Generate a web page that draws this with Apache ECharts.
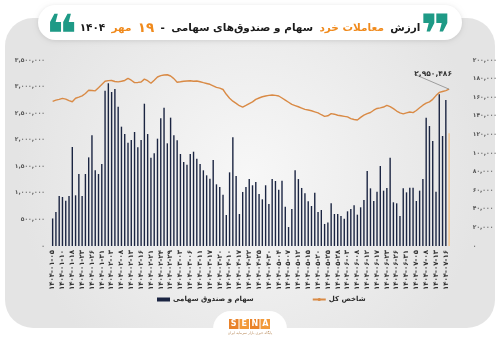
<!DOCTYPE html>
<html>
<head>
<meta charset="utf-8">
<script src="https://cdn.jsdelivr.net/npm/echarts@6/dist/echarts.min.js"></script>
<style>
  html, body { margin: 0; padding: 0; background: #ffffff; }
  #chart { width: 500px; height: 346px; }
</style>
</head>
<body>
<div id="chart"></div>
<script>
// Trading days of 1404 (Solar Hijri), Farvardin to Mehr
const dates = [
  '1404-01-05','1404-01-06','1404-01-09','1404-01-10','1404-01-16','1404-01-17','1404-01-18','1404-01-19',
  '1404-01-20','1404-01-23','1404-01-24','1404-01-25','1404-01-26','1404-01-27','1404-01-30','1404-01-31',
  '1404-02-01','1404-02-02','1404-02-03','1404-02-06','1404-02-07','1404-02-08','1404-02-09','1404-02-10',
  '1404-02-13','1404-02-14','1404-02-15','1404-02-16','1404-02-17','1404-02-20','1404-02-21','1404-02-22',
  '1404-02-23','1404-02-24','1404-02-27','1404-02-28','1404-02-29','1404-02-30','1404-02-31',
  '1404-03-03','1404-03-04','1404-03-05','1404-03-06','1404-03-07','1404-03-10','1404-03-11','1404-03-12',
  '1404-03-13','1404-03-17','1404-03-18','1404-03-19','1404-03-20','1404-03-21',
  '1404-04-09','1404-04-10','1404-04-11','1404-04-16','1404-04-17','1404-04-18','1404-04-21','1404-04-22',
  '1404-04-23','1404-04-24','1404-04-25','1404-04-28','1404-04-29','1404-04-30','1404-04-31',
  '1404-05-01','1404-05-04','1404-05-05','1404-05-06','1404-05-07','1404-05-08','1404-05-11','1404-05-12',
  '1404-05-13','1404-05-14','1404-05-15','1404-05-18','1404-05-19','1404-05-20','1404-05-21','1404-05-22',
  '1404-05-25','1404-05-26','1404-05-27','1404-05-28','1404-05-29',
  '1404-06-01','1404-06-03','1404-06-04','1404-06-05','1404-06-08','1404-06-09','1404-06-11','1404-06-12',
  '1404-06-15','1404-06-16','1404-06-17','1404-06-18','1404-06-22','1404-06-23','1404-06-24','1404-06-25',
  '1404-06-26','1404-06-29','1404-06-30','1404-06-31',
  '1404-07-01','1404-07-02','1404-07-05','1404-07-06','1404-07-07','1404-07-08','1404-07-09','1404-07-12',
  '1404-07-13','1404-07-14','1404-07-15','1404-07-16','1404-07-19'
];

// Retail trading value of shares and equity funds (right axis)
const retailValue = [
  29600, 36600, 53800, 52700, 48700, 53800, 106400, 54500, 77400, 53800,
  77400, 95300, 119000, 81400, 77400, 88200, 167000, 175000, 165600, 168800,
  149800, 128300, 120400, 111100, 114000, 122600, 106100, 114000, 153000, 120400,
  95000, 99600, 115400, 137300, 148700, 110400, 138000, 119000, 113600, 98900,
  90300, 87400, 98900, 101400, 93900, 88200, 81400, 76000, 72400, 92500,
  66300, 63400, 55200, 33300, 79200, 116900, 75300, 34400, 58100, 63400,
  72000, 65300, 68800, 55900, 50200, 65300, 45200, 72000, 69900, 60500,
  70200, 42300, 20400, 39800, 81400, 72000, 62400, 56600, 48000, 43000,
  57300, 36600, 38700, 23700, 25400, 45900, 34400, 34400, 32300, 29400,
  37300, 39800, 43700, 33700, 41600, 49500, 80600, 62000, 48400, 58400,
  86000, 59500, 62400, 95000, 47000, 45900, 32300, 62000, 57700, 62700,
  62700, 48400, 59500, 72000, 138000, 129000, 112900, 58400, 163100, 118300,
  157000, 121200
];

// TEDPIX total index (left axis)
const totalIndex = [
  2723000, 2745000, 2760000, 2779000, 2765000, 2735000, 2715000, 2780000, 2800000, 2825000,
  2870000, 2930000, 2925000, 2920000, 2980000, 3040000, 3100000, 3112000, 3115000, 3095000,
  3088000, 3100000, 3115000, 3155000, 3120000, 3075000, 3078000, 3085000, 3140000, 3110000,
  3062000, 3120000, 3180000, 3205000, 3218000, 3222000, 3199000, 3150000, 3082000, 3090000,
  3099000, 3105000, 3110000, 3100000, 3105000, 3090000, 3073000, 3058000, 3043000, 3015000,
  2986000, 2970000, 2945000, 2855000, 2780000, 2725000, 2685000, 2640000, 2612000, 2645000,
  2680000, 2712000, 2760000, 2785000, 2808000, 2823000, 2835000, 2841000, 2835000, 2823000,
  2785000, 2745000, 2705000, 2664000, 2642000, 2620000, 2595000, 2570000, 2560000, 2545000,
  2525000, 2505000, 2470000, 2440000, 2450000, 2490000, 2480000, 2460000, 2450000, 2440000,
  2430000, 2398000, 2380000, 2372000, 2420000, 2462000, 2490000, 2512000, 2555000, 2588000,
  2600000, 2615000, 2648000, 2622000, 2585000, 2540000, 2505000, 2486000, 2505000, 2522000,
  2510000, 2550000, 2600000, 2650000, 2690000, 2712000, 2760000, 2830000, 2890000, 2908000,
  2925000, 2950486
];

const seriesNames = ['سهام و صندوق سهامی', 'شاخص کل'];
const indexAxis = { min: 0, max: 3500000, interval: 500000 };
const valueAxis = { min: 0, max: 200000, interval: 20000 };

const FONT = 'DejaVu Sans';
const faDigits = '۰۱۲۳۴۵۶۷۸۹';
const fa = s => String(s).replace(/[0-9]/g, d => faDigits[+d]);
const fmt = n => fa(Number(n).toLocaleString('en-US'));

const last = totalIndex.length - 1;
const lineData = totalIndex.map((v, i) => i === last
  ? { value: v, label: { show: true } }
  : v);
const barData = retailValue.map((v, i) => i === retailValue.length - 1
  ? { value: v, itemStyle: { color: '#f3c48c' } }
  : v);

const chart = echarts.init(document.getElementById('chart'), null, { renderer: 'canvas' });

chart.setOption({
  animation: false,
  textStyle: { fontFamily: FONT },
  graphic: [
    { // background panel
      type: 'rect', z: -10, silent: true,
      shape: { x: 5, y: 18, width: 490, height: 310, r: 28 },
      style: {
        fill: {
          type: 'radial', x: 0.5, y: 0.5, r: 0.75,
          colorStops: [{ offset: 0, color: '#f7f7f7' }, { offset: 1, color: '#e4e4e4' }]
        }
      }
    },
    { // title pill
      type: 'rect', z: -5, silent: true,
      shape: { x: 38, y: 5, width: 424, height: 35, r: 17.5 },
      style: { fill: '#ffffff', shadowBlur: 5, shadowColor: 'rgba(0,0,0,0.12)', shadowOffsetY: 1 }
    },
    {
      type: 'text', z: 5, silent: true,
      style: { text: '❝', x: 61, y: 39, align: 'center', verticalAlign: 'middle', fill: '#1e9a86', font: 'bold 54px "DejaVu Sans"' }
    },
    {
      type: 'text', z: 5, silent: true,
      style: { text: '❞', x: 436, y: 39, align: 'center', verticalAlign: 'middle', fill: '#1e9a86', font: 'bold 54px "DejaVu Sans"' }
    },
    { // logo tab
      type: 'rect', z: -4, silent: true,
      shape: { x: 213, y: 311, width: 74, height: 40, r: [18, 18, 0, 0] },
      style: { fill: '#ffffff' }
    },
    {
      type: 'group', left: 229, top: 319, z: 6, silent: true,
      children: ['S', 'E', 'N', 'A'].map((ch, i) => ({
        type: 'group', x: i * 10.5,
        children: [
          { type: 'rect', shape: { x: 0, y: 0, width: 9.5, height: 10 }, style: { fill: i % 2 ? '#f29a3a' : '#e9822a' } },
          { type: 'text', style: { text: ch, x: 4.75, y: 5.3, align: 'center', verticalAlign: 'middle', fill: '#ffffff', font: 'bold 8px "DejaVu Sans"' } }
        ]
      }))
    },
    {
      type: 'text', z: 6, silent: true, left: 'center', top: 331,
      style: { text: 'پایگاه خبری بازار سرمایه ایران', fill: '#b88a5a', font: '3.5px "DejaVu Sans"' }
    }
  ],
  title: {
    left: 'center', top: 14,
    text: '{a|۱۴۰۴} {o|مهر} {b|۱۹} {a|-} {a|سهام و صندوق‌های سهامی} {o|معاملات خرد} {a|ارزش}',
    textStyle: {
      rich: {
        a: { fontFamily: FONT, fontSize: 10.5, fontWeight: 'bold', color: '#1a1a1a' },
        o: { fontFamily: FONT, fontSize: 10.5, fontWeight: 'bold', color: '#f08a1c' },
        b: { fontFamily: FONT, fontSize: 13.5, fontWeight: 'bold', color: '#f08a1c' }
      }
    }
  },
  legend: {
    left: 152, top: 291, itemGap: 58, itemWidth: 13, itemHeight: 4,
    data: [{ name: seriesNames[0], icon: 'rect' }, { name: seriesNames[1] }],
    textStyle: { fontFamily: FONT, fontSize: 7, fontWeight: 'bold', color: '#2a2a2a', padding: [0, 0, 0, -2] }
  },
  grid: { left: 51, right: 41, top: 60, bottom: 100, containLabel: false },
  xAxis: {
    type: 'category', data: dates, boundaryGap: true,
    axisLine: { show: false }, axisTick: { show: false },
    axisLabel: {
      interval: 2, rotate: 90, margin: 4,
      fontFamily: FONT, fontSize: 7, fontWeight: 'bold', color: '#333333',
      formatter: v => fa(v)
    }
  },
  yAxis: [
    {
      type: 'value', position: 'left', ...indexAxis,
      axisLine: { show: false }, axisTick: { show: false }, splitLine: { show: false },
      axisLabel: { margin: 6, fontFamily: FONT, fontSize: 6, fontWeight: 'bold', color: '#555555', formatter: v => fmt(v) }
    },
    {
      type: 'value', position: 'right', ...valueAxis,
      axisLine: { show: false }, axisTick: { show: false }, splitLine: { show: false },
      axisLabel: { margin: 22, fontFamily: FONT, fontSize: 6, fontWeight: 'bold', color: '#555555', formatter: v => fmt(v) }
    }
  ],
  series: [
    {
      name: seriesNames[0], type: 'bar', yAxisIndex: 1,
      data: barData, barWidth: 1.4,
      itemStyle: { color: '#1b2542' }
    },
    {
      name: seriesNames[1], type: 'line', yAxisIndex: 0,
      data: lineData, symbol: 'circle', symbolSize: 0, showSymbol: true, showAllSymbol: true, z: 5,
      lineStyle: { color: '#d98a45', width: 1.4 },
      itemStyle: { color: '#d98a45' },
      label: {
        show: false, position: 'top',
        fontFamily: FONT, fontSize: 7.5, fontWeight: 'bold', color: '#333333',
        formatter: p => fmt(p.value)
      },
      labelLayout: { dx: -16, dy: -6 },
      labelLine: { show: true, length2: 5, lineStyle: { color: '#8a8a8a', width: 0.8 } }
    }
  ]
});
</script>
</body>
</html>
